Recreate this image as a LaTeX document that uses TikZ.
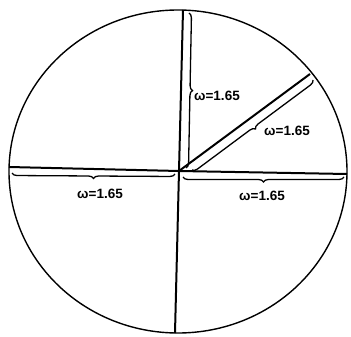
\documentclass[tikz,border=0pt]{standalone}
\usepackage{fontspec}
\setmainfont{Liberation Sans}
\usetikzlibrary{decorations.pathreplacing,calc,shapes.geometric}
\begin{document}
\begin{tikzpicture}[x=1pt,y=-1pt,
  spoke/.style={line width=2pt},
  rim/.style={line width=1.4pt},
  br/.style={decorate,decoration={brace,amplitude=5pt},line width=1.3pt},
  lab/.style={font=\bfseries\fontsize{13.5}{16}\selectfont,inner sep=1pt}]
\useasboundingbox (0,0) rectangle (351,337);
\coordinate (O) at (179,171);
\node[rim,draw,ellipse,minimum width=338pt,minimum height=323pt,inner sep=0pt] (C) at (178,171.5) {};
\coordinate (T) at (183,10);
\coordinate (B) at (175,333);
\coordinate (L) at (9,167);
\coordinate (R) at (347,174);
\coordinate (D) at (310,74);
\draw[spoke] (O) -- (T);
\draw[spoke] (O) -- (B);
\draw[spoke] (O) -- (L);
\draw[spoke] (O) -- (R);
\draw[spoke] (O) -- (D);
% braces
\coordinate (vb1) at (189,13);
\coordinate (vb2) at (186,168);
\draw[br] (vb1) -- (vb2);
\node[lab,anchor=west] (l1) at (193,96) {ω=1.65};
\coordinate (db1) at (313,80);
\coordinate (db2) at (192,170);
\draw[br] (db1) -- (db2);
\node[lab] (l2) at (287,131) {ω=1.65};
\coordinate (lb1) at (175,174);
\coordinate (lb2) at (12,173);
\draw[br] (lb1) -- (lb2);
\node[lab] (l3) at (100,194) {ω=1.65};
\coordinate (rb1) at (344,177);
\coordinate (rb2) at (183,177);
\draw[br] (rb1) -- (rb2);
\node[lab] (l4) at (262,196) {ω=1.65};
\end{tikzpicture}
\end{document}
